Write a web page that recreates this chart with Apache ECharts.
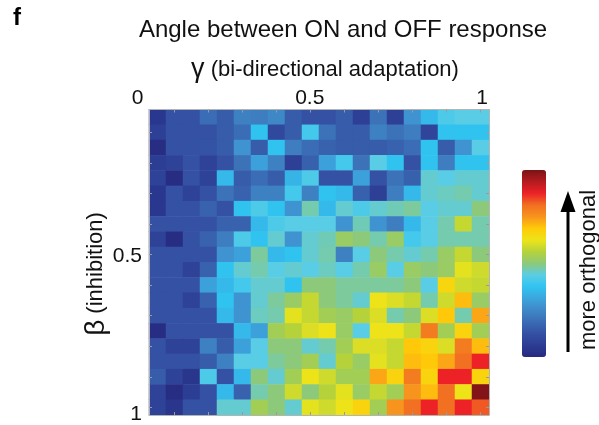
<!DOCTYPE html>
<html>
<head>
<meta charset="utf-8">
<script src="https://cdn.jsdelivr.net/npm/echarts@6/dist/echarts.min.js"></script>
<style>
  html, body { margin: 0; padding: 0; background: #ffffff; }
  #chart { width: 599px; height: 425px; }
</style>
</head>
<body>
<div id="chart"></div>
<script>
// γ (bi-directional adaptation) steps, left to right
const gammaSteps = ['0.05','0.10','0.15','0.20','0.25','0.30','0.35','0.40','0.45','0.50',
                    '0.55','0.60','0.65','0.70','0.75','0.80','0.85','0.90','0.95','1.00'];
// β (inhibition) steps, top to bottom
const betaSteps = ['0.05','0.10','0.15','0.20','0.25','0.30','0.35','0.40','0.45','0.50',
                   '0.55','0.60','0.65','0.70','0.75','0.80','0.85','0.90','0.95','1.00'];

// Normalised angle between ON and OFF response (0 = parallel, 1 = most orthogonal)
// one row per β step, one column per γ step
const angleRows = [
  [0.045,0.125,0.125,0.19,0.15,0.235,0.225,0.25,0.15,0.125, 0.125,0.15,0.075,0.2,0.075,0.275,0.355,0.42,0.4375,0.4375],
  [0.075,0.125,0.125,0.125,0.15,0.19,0.375,0.1,0.15,0.405, 0.2,0.15,0.15,0.235,0.2,0.225,0.09,0.375,0.375,0.375],
  [0.01,0.125,0.125,0.13,0.15,0.275,0.15,0.375,0.225,0.19, 0.165,0.15,0.15,0.15,0.165,0.19,0.375,0.15,0.275,0.4375],
  [0.065,0.08,0.125,0.08,0.125,0.2,0.305,0.235,0.075,0.16, 0.305,0.405,0.2,0.4375,0.375,0.125,0.375,0.225,0.375,0.375],
  [0.08,0.01,0.125,0.08,0.355,0.15,0.19,0.15,0.345,0.42, 0.125,0.125,0.305,0.125,0.2,0.16,0.45,0.4375,0.45,0.45],
  [0.045,0.125,0.08,0.125,0.2,0.165,0.235,0.235,0.405,0.235, 0.375,0.355,0.16,0.075,0.225,0.355,0.45,0.46,0.47,0.45],
  [0.045,0.125,0.125,0.165,0.125,0.375,0.42,0.375,0.275,0.47, 0.355,0.45,0.42,0.45,0.465,0.48,0.4375,0.45,0.45,0.5],
  [0.125,0.125,0.125,0.125,0.165,0.165,0.355,0.42,0.4375,0.4375, 0.4375,0.275,0.465,0.275,0.225,0.355,0.4375,0.47,0.58,0.47],
  [0.08,0.01,0.125,0.165,0.225,0.42,0.375,0.45,0.275,0.45, 0.465,0.52,0.5,0.47,0.52,0.405,0.4375,0.47,0.47,0.47],
  [0.125,0.125,0.125,0.125,0.275,0.305,0.48,0.355,0.375,0.45, 0.47,0.235,0.4375,0.5,0.47,0.45,0.47,0.52,0.58,0.5],
  [0.125,0.125,0.08,0.165,0.375,0.45,0.47,0.4375,0.45,0.4375, 0.46,0.4375,0.47,0.52,0.4375,0.52,0.5,0.52,0.615,0.59],
  [0.125,0.125,0.125,0.305,0.355,0.405,0.45,0.45,0.375,0.5, 0.5,0.48,0.48,0.48,0.48,0.5,0.4375,0.66,0.59,0.58],
  [0.125,0.125,0.08,0.165,0.375,0.275,0.45,0.48,0.52,0.58, 0.5,0.48,0.45,0.63,0.605,0.58,0.47,0.59,0.705,0.52],
  [0.125,0.125,0.125,0.125,0.355,0.275,0.46,0.47,0.615,0.58, 0.535,0.52,0.5625,0.605,0.47,0.5,0.605,0.69,0.47,0.73],
  [0.01,0.125,0.125,0.125,0.125,0.355,0.305,0.535,0.5625,0.605, 0.63,0.52,0.4375,0.63,0.63,0.58,0.79,0.535,0.665,0.535],
  [0.125,0.08,0.08,0.235,0.15,0.305,0.4375,0.5,0.5,0.45, 0.47,0.535,0.605,0.605,0.58,0.69,0.665,0.605,0.79,0.705],
  [0.125,0.125,0.125,0.15,0.235,0.4375,0.4375,0.48,0.5,0.535, 0.45,0.5625,0.52,0.615,0.58,0.705,0.69,0.73,0.81,0.875],
  [0.15,0.08,0.04,0.42,0.125,0.355,0.5,0.45,0.535,0.63, 0.59,0.535,0.535,0.73,0.665,0.79,0.665,0.875,0.875,0.665],
  [0.08,0.01,0.065,0.125,0.355,0.165,0.47,0.5,0.59,0.5, 0.5625,0.615,0.52,0.58,0.535,0.75,0.705,0.81,0.63,0.99],
  [0.08,0.04,0.125,0.125,0.45,0.45,0.535,0.5,0.45,0.615, 0.59,0.628,0.665,0.535,0.75,0.81,0.875,0.81,0.875,0.83]
];

// Axis tick labels
const gammaTickValues = [0, 0.5, 1];
const gammaTickLabels = ['0', '0.5', '1'];
const betaTickValues = [0.5, 1];
const betaTickLabels = ['0.5', '1'];

// jet-style palette, low to high
const jetColors = ['#262a80','#2c3c93','#3451a3','#3a6cb4','#3f88c8','#3ca4dc','#30c3f0','#5acde6',
                   '#8dc97a','#b5d23a','#ede41a','#ffcb08','#f7941d','#f26f22','#ec2227','#b51b1f','#7a1315'];

const FONT = 'Liberation Sans, Arial, Helvetica, sans-serif';

const cells = [];
angleRows.forEach((row, r) => row.forEach((v, c) => cells.push([c, r, v])));

function tickFormatter(values, labels) {
  return function (v) {
    const i = values.findIndex(t => Math.abs(t - v) < 1e-9);
    return i >= 0 ? labels[i] : '';
  };
}

const boxAxisX = (pos) => ({
  type: 'category', gridIndex: 0, data: gammaSteps, position: pos, z: 5,
  axisLine: { show: true, lineStyle: { color: '#b4b4b4', width: 1 } },
  axisTick: { show: true, inside: true, length: 3, alignWithLabel: true,
              interval: (i) => i % 2 === 1, lineStyle: { color: '#9a9a9a', width: 1 } },
  axisLabel: { show: false }, splitLine: { show: false }
});
const boxAxisY = (pos) => ({
  type: 'category', gridIndex: 0, data: betaSteps, inverse: true, position: pos, z: 5,
  axisLine: { show: true, lineStyle: { color: '#b4b4b4', width: 1 } },
  axisTick: { show: true, inside: true, length: 3, alignWithLabel: true,
              interval: (i) => i % 2 === 1, lineStyle: { color: '#9a9a9a', width: 1 } },
  axisLabel: { show: false }, splitLine: { show: false }
});
const hiddenValueAxis = (grid) => ({
  type: 'value', gridIndex: grid, min: 0, max: 1, show: false
});

const chart = echarts.init(document.getElementById('chart'), null, { renderer: 'canvas' });

chart.setOption({
  animation: false,
  backgroundColor: '#ffffff',
  grid: [
    { left: 149, top: 109.5, width: 340, height: 305.5 },
    { left: 137.5, top: 109.5, width: 344.5, height: 1 },
    { left: 149, top: 98, width: 1, height: 316 }
  ],
  xAxis: [
    boxAxisX('bottom'),
    boxAxisX('top'),
    {
      type: 'value', gridIndex: 1, position: 'top', min: 0, max: 1, interval: 0.5,
      axisLine: { show: false }, axisTick: { show: false }, splitLine: { show: false },
      axisLabel: { show: true, margin: 1, fontSize: 21, color: '#111', fontFamily: FONT,
                   formatter: tickFormatter(gammaTickValues, gammaTickLabels) }
    },
    hiddenValueAxis(2)
  ],
  yAxis: [
    boxAxisY('left'),
    boxAxisY('right'),
    {
      type: 'value', gridIndex: 2, position: 'left', inverse: true, min: 0, max: 1, interval: 0.5,
      axisLine: { show: false }, axisTick: { show: false }, splitLine: { show: false },
      axisLabel: { show: true, margin: 7, fontSize: 21, color: '#111', fontFamily: FONT,
                   formatter: tickFormatter(betaTickValues, betaTickLabels) }
    },
    hiddenValueAxis(1)
  ],
  visualMap: {
    type: 'continuous', min: 0, max: 1, seriesIndex: 0, orient: 'vertical',
    left: 522, top: 170, itemWidth: 24, itemHeight: 187, padding: 0,
    calculable: false, realtime: false, hoverLink: false,
    inRange: { color: jetColors }
  },
  series: [{
    type: 'heatmap', xAxisIndex: 0, yAxisIndex: 0, data: cells,
    itemStyle: { borderWidth: 0 }, emphasis: { disabled: true }
  }],
  graphic: [
    { type: 'text', left: 13, top: 6,
      style: { text: 'f', font: 'bold 24px ' + FONT, fill: '#000' } },
    { type: 'text', x: 343, y: 30,
      style: { text: 'Angle between ON and OFF response', font: '24px ' + FONT, fill: '#111',
               textAlign: 'center', textVerticalAlign: 'middle' } },
    { type: 'text', x: 325, y: 70,
      style: { text: '{g|γ} (bi-directional adaptation)', textAlign: 'center', textVerticalAlign: 'middle',
               font: '22px ' + FONT, fill: '#111',
               rich: { g: { fontSize: 27, fontFamily: FONT, fill: '#111' } } } },
    { type: 'text', x: 96, y: 274, rotation: Math.PI / 2,
      style: { text: '{b|β} (inhibition)', textAlign: 'center', textVerticalAlign: 'middle',
               font: '22px ' + FONT, fill: '#111',
               rich: { b: { fontSize: 28, fontFamily: FONT, fill: '#111' } } } },
    { type: 'line', shape: { x1: 568, y1: 352, x2: 568, y2: 208 },
      style: { stroke: '#000', lineWidth: 3 } },
    { type: 'polygon', shape: { points: [[568, 191], [560.5, 212], [575.5, 212]] },
      style: { fill: '#000' } },
    { type: 'text', x: 589, y: 270, rotation: Math.PI / 2,
      style: { text: 'more orthogonal', font: '22px ' + FONT, fill: '#111',
               textAlign: 'center', textVerticalAlign: 'middle' } }
  ]
});
</script>
</body>
</html>
